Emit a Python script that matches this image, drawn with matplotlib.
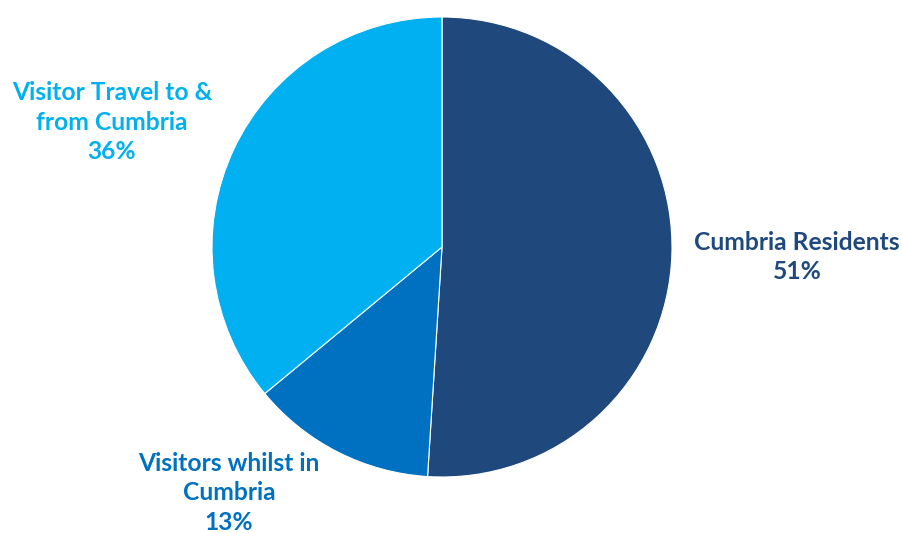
import matplotlib.pyplot as plt

categories = ["Cumbria Residents", "Visitors whilst in\nCumbria", "Visitor Travel to &\nfrom Cumbria"]
shares = [51, 13, 36]
colors = ["#1F497D", "#0070C0", "#00B0F0"]

W, H = 902, 533
fig = plt.figure(figsize=(W / 100, H / 100), dpi=100)

# pie centre at (442, 247) px from top-left, radius 230 px
ax = fig.add_axes([(442 - 230) / W, (H - 247 - 230) / H, 460 / W, 460 / H])
ax.pie(shares, colors=colors, startangle=90, counterclock=False,
       wedgeprops=dict(linewidth=0.8, edgecolor="white"))
ax.set_xlim(-1, 1)
ax.set_ylim(-1, 1)
ax.set_aspect("equal")
ax.axis("off")

# label anchor points (centre of text block, px from top-left)
label_pos = [(797, 257), (229, 493), (112, 122)]
for cat, val, col, (px, py) in zip(categories, shares, colors, label_pos):
    fig.text(px / W, 1 - py / H, f"{cat}\n{val}%", color=col,
             ha="center", va="center", fontsize=17.7, fontweight="bold",
             family=["Lato", "DejaVu Sans"], linespacing=1.33)

fig.savefig("out.png", dpi=100, facecolor="white")
